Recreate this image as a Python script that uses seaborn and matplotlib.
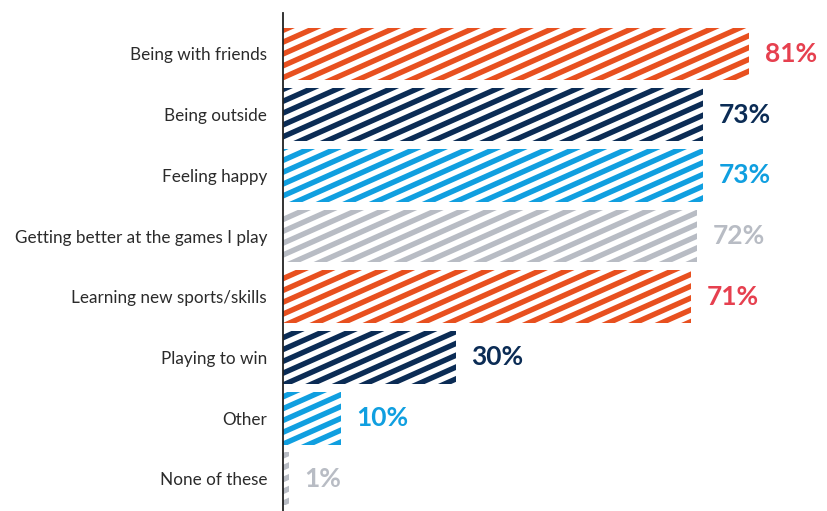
import numpy as np
import pandas as pd
import matplotlib
matplotlib.use("Agg")
import matplotlib.pyplot as plt
from matplotlib.transforms import IdentityTransform
from matplotlib.collections import LineCollection
import seaborn as sns

categories = [
    "Being with friends",
    "Being outside",
    "Feeling happy",
    "Getting better at the games I play",
    "Learning new sports/skills",
    "Playing to win",
    "Other",
    "None of these",
]
values = [81, 73, 73, 72, 71, 30, 10, 1]
labels = ["81%", "73%", "73%", "72%", "71%", "30%", "10%", "1%"]

bar_colors = ["#e8501f", "#0b2c55", "#109fe0", "#b8bcc4",
              "#e8501f", "#0b2c55", "#109fe0", "#b8bcc4"]
label_colors = ["#e6404f", "#0b2c55", "#109fe0", "#b8bcc4",
                "#e6404f", "#0b2c55", "#109fe0", "#b8bcc4"]

df = pd.DataFrame({"category": categories, "value": values})

sns.set_theme(style="white")
plt.rcParams["font.family"] = ["Lato", "DejaVu Sans"]

W, H, DPI = 827, 511, 100
fig = plt.figure(figsize=(W / DPI, H / DPI), dpi=DPI)
ax = fig.add_axes([283 / W, 0, 1 - 283 / W, (H - 13) / H])

sns.barplot(data=df, y="category", x="value", hue="category",
            palette=bar_colors, legend=False, orient="h",
            width=0.87, ax=ax, saturation=1)

ax.set_xlim(0, (W - 283) / 5.75)
ax.set_ylim(7.53, -0.675)
ax.set_xlabel("")
ax.set_ylabel("")
ax.set_xticks([])
ax.tick_params(axis="y", length=0, pad=11.5, labelsize=12.3, labelcolor="#2b2b2b")
for s in ["top", "right", "bottom"]:
    ax.spines[s].set_visible(False)
ax.spines["left"].set_color("#222222")
ax.spines["left"].set_linewidth(1.3)
ax.spines["left"].set_zorder(5)

fig.canvas.draw()

# diagonal stripe fill for each bar, clipped to the bar shape
theta = np.deg2rad(24)
d = np.array([np.cos(theta), np.sin(theta)])
n = np.array([-np.sin(theta), np.cos(theta)])
period = 10.8
stripe_px = 5.4
for patch, col in zip(ax.patches, bar_colors):
    x0, y0 = patch.get_x(), patch.get_y()
    x1, y1 = x0 + patch.get_width(), y0 + patch.get_height()
    corners = ax.transData.transform([[x0, y0], [x1, y0], [x0, y1], [x1, y1]])
    proj = corners @ n
    cmin, cmax = proj.min() - period, proj.max() + period
    cs = np.arange(np.floor(cmin / period) * period, cmax, period)
    span = 2000
    segs = [[c * n - span * d, c * n + span * d] for c in cs]
    lc = LineCollection(segs, colors=col, linewidths=stripe_px * 72 / DPI,
                        transform=IdentityTransform(), capstyle="butt", zorder=3)
    ax.add_collection(lc, autolim=False)
    lc.set_clip_path(patch)
    patch.set_facecolor("none")
    patch.set_edgecolor("none")

for i, (v, lab, c) in enumerate(zip(values, labels, label_colors)):
    ax.annotate(lab, xy=(v, i), xytext=(11.5, 0), textcoords="offset points",
                va="center", ha="left", fontsize=19, fontweight="bold",
                color=c)

fig.savefig("out.png", dpi=DPI)
